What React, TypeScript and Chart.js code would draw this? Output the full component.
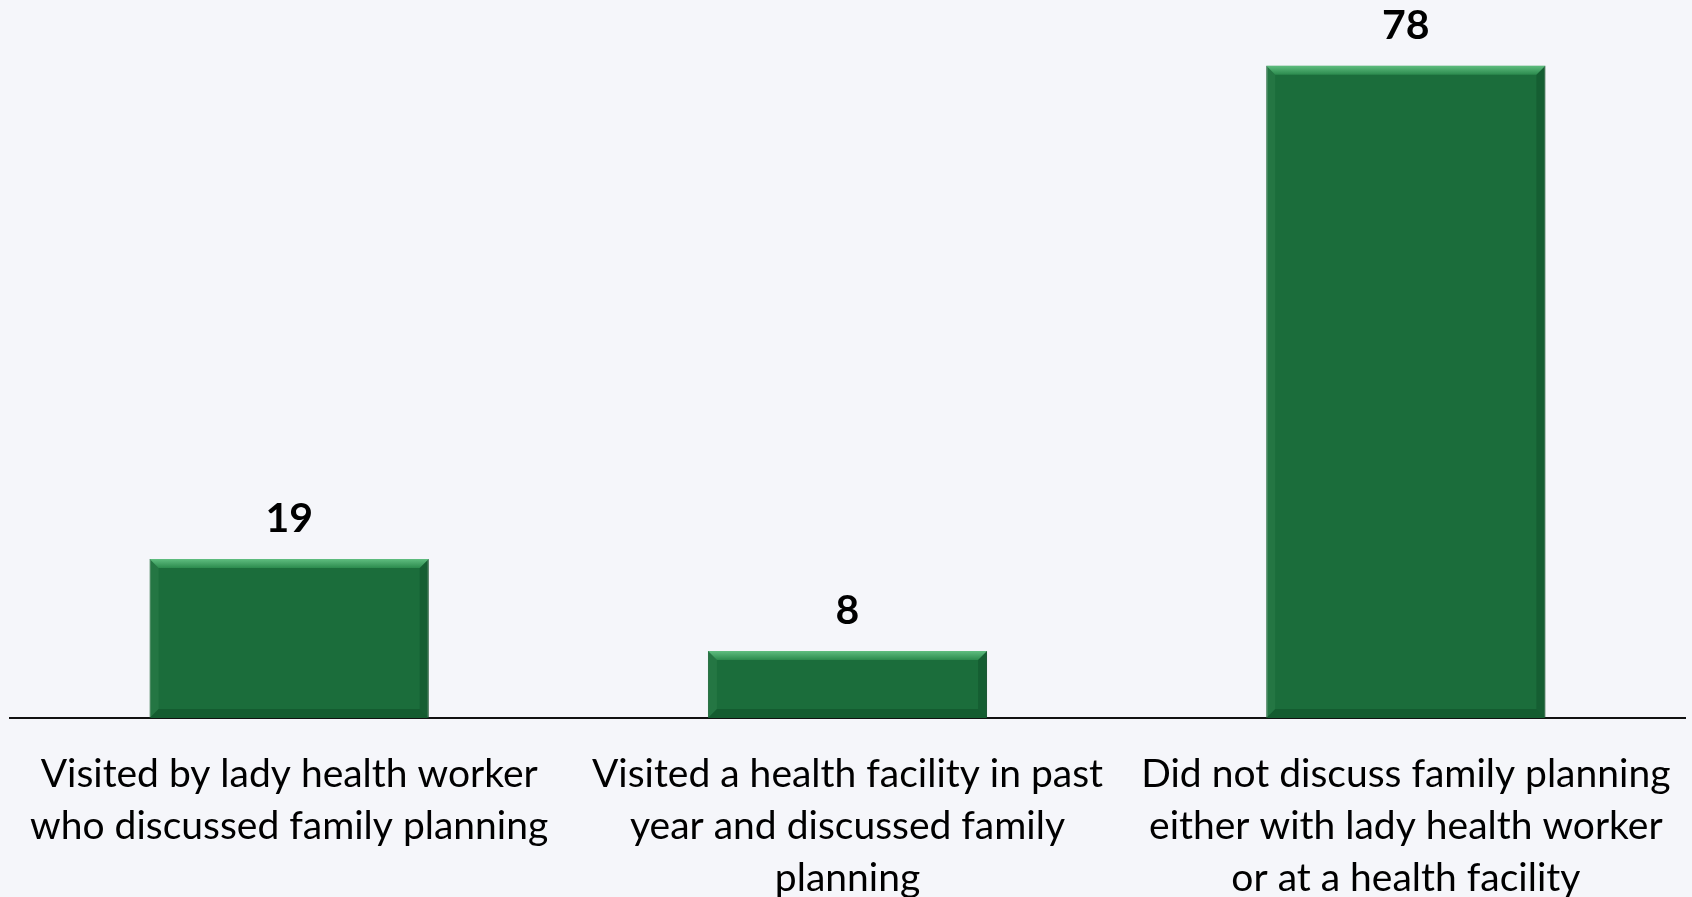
import React, { useEffect, useRef } from "react";
import { Chart, registerables } from "chart.js";

Chart.register(...registerables);

const categories: string[][] = [
  ["Visited by lady health worker", "who discussed family planning"],
  ["Visited a health facility in past", "year and discussed family", "planning"],
  ["Did not discuss family planning", "either with lady health worker", "or at a health facility"],
];
const values: number[] = [19, 8, 78];

const FONT = "Lato, 'Open Sans', sans-serif";

const bevelPlugin = {
  id: "bevel",
  afterDatasetsDraw(chart: any) {
    const ctx = chart.ctx;
    const meta = chart.getDatasetMeta(0);
    meta.data.forEach((bar: any) => {
      const { x, y, base, width } = bar.getProps(["x", "y", "base", "width"], true);
      const l = x - width / 2;
      const r = x + width / 2;
      const b = 9;
      ctx.save();
      const g = ctx.createLinearGradient(0, y, 0, y + b);
      g.addColorStop(0, "#5fbd7f");
      g.addColorStop(1, "#2b8a4d");
      ctx.fillStyle = g;
      ctx.beginPath();
      ctx.moveTo(l, y);
      ctx.lineTo(r, y);
      ctx.lineTo(r - b, y + b);
      ctx.lineTo(l + b, y + b);
      ctx.closePath();
      ctx.fill();
      ctx.fillStyle = "rgba(60,140,85,0.3)";
      ctx.beginPath();
      ctx.moveTo(l, y);
      ctx.lineTo(l + b, y + b);
      ctx.lineTo(l + b, base - b);
      ctx.lineTo(l, base);
      ctx.closePath();
      ctx.fill();
      ctx.fillStyle = "rgba(10,60,30,0.3)";
      ctx.beginPath();
      ctx.moveTo(r, y);
      ctx.lineTo(r - b, y + b);
      ctx.lineTo(r - b, base - b);
      ctx.lineTo(r, base);
      ctx.closePath();
      ctx.fill();
      ctx.fillStyle = "rgba(10,60,30,0.35)";
      ctx.beginPath();
      ctx.moveTo(l, base);
      ctx.lineTo(l + b, base - b);
      ctx.lineTo(r - b, base - b);
      ctx.lineTo(r, base);
      ctx.closePath();
      ctx.fill();
      ctx.restore();
    });
  },
};

const valueLabelPlugin = {
  id: "valueLabels",
  afterDraw(chart: any) {
    const ctx = chart.ctx;
    const meta = chart.getDatasetMeta(0);
    const data = chart.data.datasets[0].data;
    ctx.save();
    ctx.font = `bold 41px ${FONT}`;
    ctx.fillStyle = "#000";
    ctx.textAlign = "center";
    ctx.textBaseline = "middle";
    meta.data.forEach((bar: any, i: number) => {
      ctx.fillText(String(data[i]), bar.x, bar.y - 40);
    });
    ctx.restore();
  },
};

export default function App() {
  const ref = useRef<HTMLCanvasElement>(null);
  useEffect(() => {
    document.body.style.margin = "0";
    document.body.style.background = "#f5f6fa";
    const chart = new Chart(ref.current!, {
      type: "bar",
      data: {
        labels: categories,
        datasets: [
          {
            data: values,
            backgroundColor: "#1b6d3b",
            borderColor: "#175a31",
            borderWidth: 1,
            barPercentage: 0.5,
            categoryPercentage: 1,
          },
        ],
      },
      options: {
        responsive: false,
        animation: false,
        layout: { padding: { top: 49, left: 10, right: 7, bottom: 0 } },
        plugins: { legend: { display: false }, tooltip: { enabled: false } },
        scales: {
          y: { display: false, min: 0, max: 80 },
          x: {
            grid: { display: false, drawTicks: false },
            border: { display: true, color: "#111", width: 2 },
            ticks: {
              color: "#000",
              padding: 30,
              maxRotation: 0,
              autoSkip: false,
              font: { family: FONT, size: 39, lineHeight: 1.34 },
            },
            afterFit(scale: any) {
              scale.height = 179;
              scale.paddingLeft = 0;
              scale.paddingRight = 0;
            },
          },
        },
      },
      plugins: [bevelPlugin, valueLabelPlugin],
    });
    return () => chart.destroy();
  }, []);
  return (
    <div style={{ position: "absolute", left: 0, top: 0, width: 1692, height: 897, background: "#f5f6fa" }}>
      <canvas ref={ref} width={1692} height={897} />
    </div>
  );
}
